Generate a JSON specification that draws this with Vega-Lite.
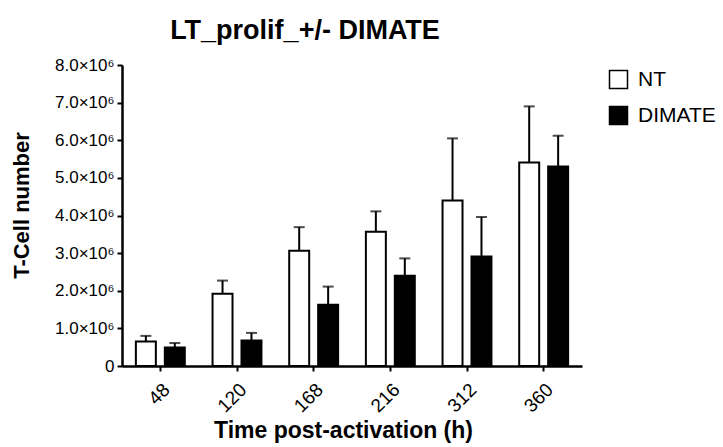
{
  "$schema": "https://vega.github.io/schema/vega-lite/v6.json",
  "autosize": "none",
  "padding": {"left": 122, "top": 65, "right": 141, "bottom": 81},
  "width": 460,
  "height": 301,
  "background": "white",
  "config": {
    "font": "Liberation Sans",
    "view": {"stroke": null},
    "axis": {"labelOverlap": false, "grid": false}
  },
  "title": {
    "text": "LT_prolif_+/- DIMATE",
    "font": "Liberation Sans",
    "fontSize": 27,
    "fontWeight": "bold",
    "color": "black",
    "anchor": "middle",
    "frame": "group",
    "dx": -47,
    "offset": 11
  },
  "data": {
    "values": [
      {"time": "48", "group": "NT", "mean": 650000, "upper": 800000},
      {"time": "48", "group": "DIMATE", "mean": 490000, "upper": 610000},
      {"time": "120", "group": "NT", "mean": 1920000, "upper": 2270000},
      {"time": "120", "group": "DIMATE", "mean": 680000, "upper": 880000},
      {"time": "168", "group": "NT", "mean": 3060000, "upper": 3690000},
      {"time": "168", "group": "DIMATE", "mean": 1630000, "upper": 2110000},
      {"time": "216", "group": "NT", "mean": 3570000, "upper": 4110000},
      {"time": "216", "group": "DIMATE", "mean": 2400000, "upper": 2860000},
      {"time": "312", "group": "NT", "mean": 4400000, "upper": 6050000},
      {"time": "312", "group": "DIMATE", "mean": 2910000, "upper": 3960000},
      {"time": "360", "group": "NT", "mean": 5410000, "upper": 6900000},
      {"time": "360", "group": "DIMATE", "mean": 5300000, "upper": 6120000}
    ]
  },
  "encoding": {
    "x": {
      "field": "time",
      "type": "nominal",
      "sort": ["48", "120", "168", "216", "312", "360"],
      "scale": {"paddingInner": 0.362, "paddingOuter": 0.181},
      "axis": {
        "title": "Time post-activation (h)",
        "titleFont": "Liberation Sans",
        "titleFontSize": 23,
        "titleFontWeight": "bold",
        "titleColor": "black",
        "titlePadding": 4,
        "titleX": 221,
        "labelAngle": -45,
        "labelFont": "Liberation Sans",
        "labelFontSize": 19,
        "labelColor": "black",
        "labelPadding": 9,
        "domainColor": "black",
        "domainWidth": 2.5,
        "tickColor": "black",
        "tickWidth": 2,
        "tickSize": 5
      }
    },
    "xOffset": {
      "field": "group",
      "type": "nominal",
      "sort": ["NT", "DIMATE"],
      "scale": {"paddingInner": 0.31, "paddingOuter": 0}
    },
    "y": {
      "field": "mean",
      "type": "quantitative",
      "scale": {"domain": [0, 8000000], "nice": false},
      "axis": {
        "title": "T-Cell number",
        "titleFont": "Liberation Sans",
        "titleFontSize": 22,
        "titleFontWeight": "bold",
        "titleColor": "black",
        "titlePadding": 21,
        "titleY": 140,
        "values": [0, 1000000, 2000000, 3000000, 4000000, 5000000, 6000000, 7000000, 8000000],
        "tickCount": 9,
        "labelExpr": "datum.value == 0 ? '0' : format(datum.value / 1000000, '.1f') + '×10⁶'",
        "labelFont": "Liberation Sans",
        "labelFontSize": 17,
        "labelColor": "black",
        "labelPadding": 3,
        "domainColor": "black",
        "domainWidth": 2.5,
        "tickColor": "black",
        "tickWidth": 2,
        "tickSize": 5
      }
    }
  },
  "layer": [
    {
      "mark": {"type": "bar", "stroke": "black", "strokeWidth": 2},
      "encoding": {
        "fill": {
          "field": "group",
          "type": "nominal",
          "sort": ["NT", "DIMATE"],
          "scale": {"domain": ["NT", "DIMATE"], "range": ["white", "black"]},
          "legend": {
            "title": null,
            "orient": "none",
            "legendX": 486,
            "legendY": 4,
            "symbolType": "square",
            "symbolSize": 324,
            "symbolStrokeColor": "black",
            "symbolStrokeWidth": 1.5,
            "labelFont": "Liberation Sans",
            "labelFontSize": 21,
            "labelColor": "black",
            "labelOffset": 9,
            "rowPadding": 11
          }
        }
      }
    },
    {
      "mark": {"type": "rule", "color": "black", "strokeWidth": 2},
      "encoding": {
        "y2": {"field": "upper"}
      }
    },
    {
      "mark": {"type": "tick", "color": "black", "thickness": 2, "size": 11},
      "encoding": {
        "y": {"field": "upper", "type": "quantitative"}
      }
    }
  ]
}
